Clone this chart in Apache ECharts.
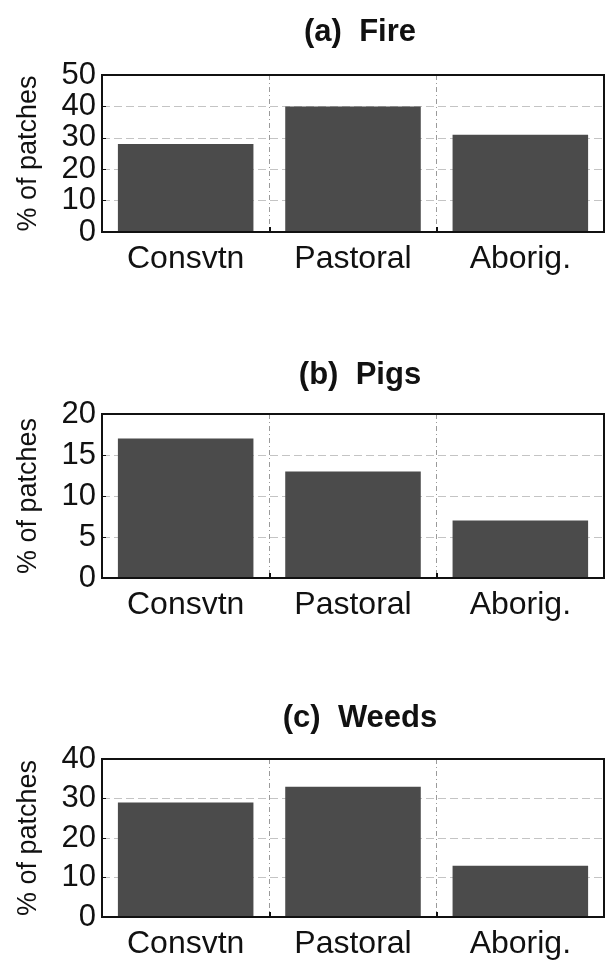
<!DOCTYPE html>
<html>
<head>
<meta charset="utf-8">
<script src="https://cdn.jsdelivr.net/npm/echarts@6/dist/echarts.min.js"></script>
<style>
html,body{margin:0;padding:0;background:#fff;}
#c{width:606px;height:960px;}
</style>
</head>
<body>
<div id="c"></div>
<script>
const categories = ['Consvtn', 'Pastoral', 'Aborig.'];
const panelTitles = ['(a)  Fire', '(b)  Pigs', '(c)  Weeds'];
const fireValues = [28, 40, 31];
const pigsValues = [17, 13, 7];
const weedsValues = [29, 33, 13];
const yMax = [50, 20, 40];
const yInterval = [10, 5, 10];
const yAxisName = '% of patches';

const seriesValues = [fireValues, pigsValues, weedsValues];
const gridTops = [75, 414, 759];
const gridHeights = [157, 164, 161];
const titleTops = [12, 355, 698];

const FONT = '"Liberation Sans", Arial, sans-serif';
const chart = echarts.init(document.getElementById('c'));

const option = {
  backgroundColor: '#fff',
  animation: false,
  title: panelTitles.map((t, i) => ({
    text: t,
    left: 355,
    top: titleTops[i],
    textAlign: 'center',
    textStyle: {fontFamily: FONT, fontWeight: 'bold', fontSize: 31, color: '#111'}
  })),
  grid: gridTops.map((top, i) => ({
    left: 102, right: 2, top: top, height: gridHeights[i], z: 10,
    show: true, borderColor: '#111', borderWidth: 2, backgroundColor: 'transparent'
  })),
  xAxis: gridTops.map((_, i) => ({
    type: 'category',
    gridIndex: i,
    data: categories,
    axisLine: {show: true, lineStyle: {color: '#111', width: 2}},
    axisTick: {show: true, inside: true, length: 5, lineStyle: {color: '#111', width: 2}},
    axisLabel: {fontFamily: FONT, fontSize: 32, color: '#111', margin: 11},
    splitLine: {show: true, lineStyle: {color: '#9a9a9a', type: [5, 3, 1, 3], width: 1}}
  })),
  yAxis: gridTops.map((_, i) => ({
    type: 'value',
    gridIndex: i,
    min: 0,
    max: yMax[i],
    interval: yInterval[i],
    name: yAxisName,
    nameLocation: 'middle',
    nameGap: 60,
    nameTextStyle: {fontFamily: FONT, fontSize: 27, color: '#111'},
    axisLine: {show: true, lineStyle: {color: '#111', width: 2}},
    axisTick: {show: true, inside: true, length: 4, lineStyle: {color: '#111', width: 1}},
    axisLabel: {fontFamily: FONT, fontSize: 31, color: '#111', margin: 6},
    splitLine: {show: true, lineStyle: {color: '#c4c4c4', type: [8, 4], width: 1}}
  })),
  series: seriesValues.map((vals, i) => ({
    type: 'bar',
    xAxisIndex: i,
    yAxisIndex: i,
    data: vals,
    barCategoryGap: '19%',
    itemStyle: {color: '#4b4b4b'}
  }))
};
chart.setOption(option);
</script>
</body>
</html>
